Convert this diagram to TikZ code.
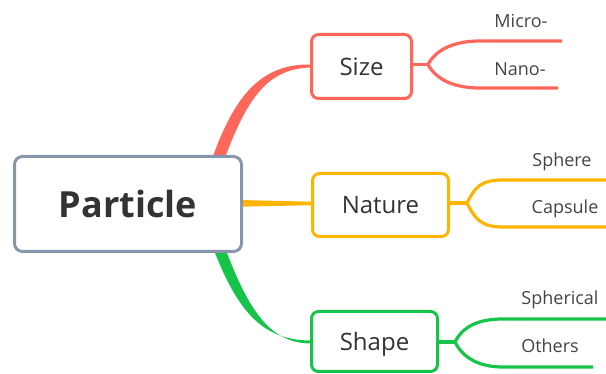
\documentclass[tikz,border=0pt]{standalone}
\usepackage{fontspec}
\setmainfont{Open Sans}
\usetikzlibrary{calc,backgrounds}
\definecolor{rootgray}{HTML}{8896AD}
\definecolor{sizered}{HTML}{FF675A}
\definecolor{natureyellow}{HTML}{FFB400}
\definecolor{shapegreen}{HTML}{16C44A}
\definecolor{textdark}{HTML}{333333}
\definecolor{textgray}{HTML}{444444}
\tikzset{
    rootbox/.style={draw=rootgray,line width=3pt,rounded corners=8pt,fill=white,
      minimum width=227pt,minimum height=95pt,inner sep=0pt,text depth=0pt,
      font=\fontsize{36}{40}\selectfont\bfseries,text=textdark},
    topicbox/.style={line width=3pt,rounded corners=7pt,fill=white,inner sep=0pt,text depth=0pt,
      font=\fontsize{24}{28}\selectfont,text=textdark},
    leaf/.style={anchor=base,inner sep=0pt,font=\fontsize{18}{22}\selectfont,text=textgray},
    branch/.style={line width=3.2pt}
}
\begin{document}
\begin{tikzpicture}[x=1pt,y=-1pt]
  \useasboundingbox (0,0) rectangle (606,374);

  % central topic and main topics
  \node[rootbox] (particle) at (128,204) {Particle};
  \node[topicbox,draw=sizered,minimum width=100pt,minimum height=64pt] (size) at (361.5,66.5) {Size};
  \node[topicbox,draw=natureyellow,minimum width=136pt,minimum height=63pt] (nature) at (380.5,205) {Nature};
  \node[topicbox,draw=shapegreen,minimum width=126pt,minimum height=60pt] (shape) at (374.5,341.5) {Shape};

  % tapered links from the central topic
  \begin{scope}[on background layer]
    \fill[sizered] ($(particle.north east)+(-31,4)$) .. controls +(23,-65) and +(-48,-0.5) .. ($(size.west)+(0,-2)$)
      -- ($(size.west)+(0,1)$) .. controls +(-42,1.5) and +(23,-62) .. ($(particle.north east)+(-18.5,4)$) -- cycle;
    \fill[natureyellow] ($(particle.east)+(-4,-4)$) -- ($(nature.west)+(0,-3.3)$)
      -- ($(nature.west)+(0,0.2)$) -- ($(particle.east)+(-4,2.7)$) -- cycle;
    \fill[shapegreen] ($(particle.south east)+(-29.5,-4)$) .. controls +(25,65) and +(-46,-0.5) .. ($(shape.west)+(0,-1)$)
      -- ($(shape.west)+(0,2)$) .. controls +(-40,-0.5) and +(23,61) .. ($(particle.south east)+(-17.5,-4)$) -- cycle;
  \end{scope}

  % subtopics: Size
  \coordinate (sizej) at (428,64.5);
  \coordinate (microa) at (480,41);
  \coordinate (microb) at (562,41);
  \coordinate (nanoa) at (480,88);
  \coordinate (nanob) at (558,88);
  \node[leaf] (micro) at (521,28) {Micro-};
  \node[leaf] (nano) at (520,76) {Nano-};
  \draw[branch,sizered] (size.east |- sizej) -- (sizej);
  \draw[branch,sizered] (sizej) .. controls +(8,-15) and +(-26,0) .. (microa) -- (microb);
  \draw[branch,sizered] (sizej) .. controls +(8,15) and +(-26,0) .. (nanoa) -- (nanob);

  % subtopics: Nature
  \coordinate (naturej) at (467,203);
  \coordinate (spherea) at (503,180);
  \coordinate (sphereb) at (606,180);
  \coordinate (capsulea) at (503,227);
  \coordinate (capsuleb) at (606,227);
  \node[leaf] (sphere) at (562,167) {Sphere};
  \node[leaf] (capsule) at (565,214) {Capsule};
  \draw[branch,natureyellow] (nature.east |- naturej) -- (naturej);
  \draw[branch,natureyellow] (naturej) .. controls +(8,-16) and +(-22,0) .. (spherea) -- (sphereb);
  \draw[branch,natureyellow] (naturej) .. controls +(8,16) and +(-22,0) .. (capsulea) -- (capsuleb);

  % subtopics: Shape
  \coordinate (shapej) at (455,342);
  \coordinate (sphericala) at (503,319);
  \coordinate (sphericalb) at (606,319);
  \coordinate (othersa) at (503,367);
  \coordinate (othersb) at (593,367);
  \node[leaf] (spherical) at (560,305) {Spherical};
  \node[leaf] (others) at (550,353) {Others};
  \draw[branch,shapegreen] (shape.east |- shapej) -- (shapej);
  \draw[branch,shapegreen] (shapej) .. controls +(8,-16) and +(-24,0) .. (sphericala) -- (sphericalb);
  \draw[branch,shapegreen] (shapej) .. controls +(8,16) and +(-24,0) .. (othersa) -- (othersb);
\end{tikzpicture}
\end{document}
